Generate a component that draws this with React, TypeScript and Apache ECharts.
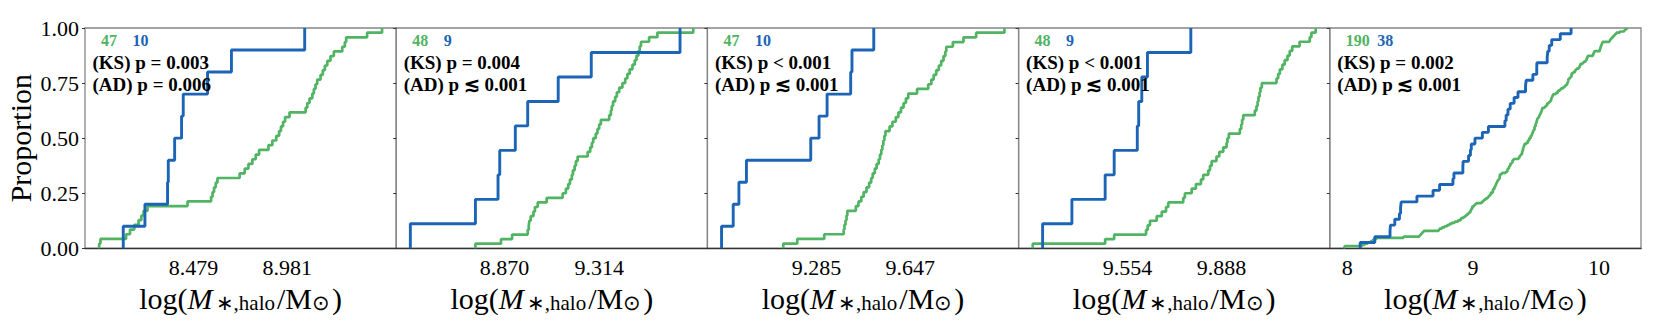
import React, { useEffect, useRef } from "react";
import * as echarts from "echarts";

const FONT = "Liberation Serif";
const GREEN = "#50b462";
const BLUE = "#1c64b5";

// Sample values (sorted), per panel
const p1Green = [7.974, 7.981, 8.118, 8.139, 8.162, 8.185, 8.2, 8.212, 8.233, 8.447, 8.573, 8.581, 8.589, 8.598, 8.607, 8.726, 8.753, 8.773, 8.794, 8.812, 8.83, 8.88, 8.901, 8.922, 8.937, 8.947, 8.958, 8.969, 8.993, 9.079, 9.088, 9.1, 9.115, 9.123, 9.132, 9.141, 9.159, 9.171, 9.182, 9.195, 9.212, 9.23, 9.275, 9.289, 9.296, 9.408, 9.488];
const p1Blue = [8.103, 8.219, 8.34, 8.344, 8.378, 8.415, 8.424, 8.554, 8.682, 9.074];

const p2Green = [8.734, 8.854, 8.906, 8.979, 8.984, 8.987, 8.993, 9.006, 9.013, 9.026, 9.068, 9.143, 9.158, 9.169, 9.177, 9.186, 9.191, 9.199, 9.205, 9.213, 9.26, 9.272, 9.28, 9.286, 9.298, 9.306, 9.314, 9.322, 9.361, 9.369, 9.373, 9.379, 9.389, 9.397, 9.408, 9.423, 9.436, 9.446, 9.457, 9.47, 9.481, 9.489, 9.498, 9.504, 9.51, 9.548, 9.587, 9.755];
const p2Blue = [8.429, 8.734, 8.84, 8.848, 8.921, 8.979, 9.122, 9.277, 9.693];

const p3Green = [9.157, 9.211, 9.315, 9.39, 9.393, 9.397, 9.401, 9.404, 9.437, 9.447, 9.458, 9.467, 9.478, 9.488, 9.496, 9.502, 9.51, 9.517, 9.525, 9.53, 9.535, 9.539, 9.543, 9.547, 9.551, 9.567, 9.578, 9.591, 9.601, 9.611, 9.621, 9.63, 9.639, 9.673, 9.716, 9.728, 9.737, 9.747, 9.757, 9.766, 9.775, 9.782, 9.786, 9.811, 9.852, 9.901, 10.01];
const p3Blue = [8.919, 8.964, 8.986, 9.015, 9.263, 9.295, 9.326, 9.417, 9.422, 9.506];

const p4Green = [9.218, 9.475, 9.507, 9.62, 9.626, 9.634, 9.658, 9.676, 9.691, 9.699, 9.752, 9.758, 9.782, 9.797, 9.815, 9.823, 9.841, 9.847, 9.853, 9.87, 9.88, 9.894, 9.906, 9.909, 9.914, 9.953, 9.958, 9.961, 9.965, 10.006, 10.012, 10.016, 10.019, 10.023, 10.026, 10.031, 10.083, 10.089, 10.095, 10.104, 10.112, 10.122, 10.13, 10.139, 10.165, 10.201, 10.207, 10.222];
const p4Blue = [9.253, 9.357, 9.475, 9.507, 9.589, 9.594, 9.605, 9.625, 9.779];

// Last panel: all samples combined
const allGreen = [...p1Green, ...p2Green, ...p3Green, ...p4Green];
const allBlue = [...p1Blue, ...p2Blue, ...p3Blue, ...p4Blue];

const panelGreen = [p1Green, p2Green, p3Green, p4Green, allGreen];
const panelBlue = [p1Blue, p2Blue, p3Blue, p4Blue, allBlue];

const xTickLabels = [
  ["8.479", "8.981"],
  ["8.870", "9.314"],
  ["9.285", "9.647"],
  ["9.554", "9.888"],
  ["8", "9", "10"],
];
const yTickLabels = ["0.00", "0.25", "0.50", "0.75", "1.00"];
const ksTexts = ["(KS) p = 0.003", "(KS) p = 0.004", "(KS) p < 0.001", "(KS) p < 0.001", "(KS) p = 0.002"];
const adTexts = ["(AD) p = 0.006", "(AD) p \u2272 0.001", "(AD) p \u2272 0.001", "(AD) p \u2272 0.001", "(AD) p \u2272 0.001"];
const yAxisTitle = "Proportion";
const xAxisTitle = "{n|log(}{i|M}{s|\u2217,halo}{n|/M}{s|\u2299}{n|)}";

// layout
const W = 1661;
const H = 332;
const G_LEFT = 85;
const G_RIGHT = 1641;
const G_TOP = 28;
const G_BOTTOM = 248.3;
const NP = 5;
const PW = (G_RIGHT - G_LEFT) / NP;

function ecdf(values: number[]): number[][] {
  const xs = [...values].sort((a, b) => a - b);
  const n = xs.length;
  const pts: number[][] = [];
  xs.forEach((x, k) => {
    pts.push([x, k / n]);
    pts.push([x, (k + 1) / n]);
  });
  return pts;
}

function label(text: string, x: number, y: number, fill: string, size: number) {
  return {
    type: "text",
    x,
    y,
    z: 10,
    style: {
      text,
      fill,
      fontFamily: FONT,
      fontWeight: "bold",
      fontSize: size,
      align: "left",
      verticalAlign: "middle",
    },
  };
}

export default function App() {
  const ref = useRef<HTMLDivElement>(null);
  useEffect(() => {
    if (!ref.current) return;
    const chart = echarts.init(ref.current, undefined, { renderer: "svg" });
    const grids: any[] = [];
    const xAxes: any[] = [];
    const yAxes: any[] = [];
    const series: any[] = [];
    const graphics: any[] = [];
    for (let i = 0; i < NP; i++) {
      const left = G_LEFT + i * PW;
      grids.push({
        left,
        top: G_TOP,
        width: PW,
        height: G_BOTTOM - G_TOP,
        show: true,
        borderColor: "#858585",
        borderWidth: 1.3,
        backgroundColor: "transparent",
        containLabel: false,
        outerBoundsMode: "none",
      });
      const all = [...panelGreen[i], ...panelBlue[i]];
      const mn = Math.min(...all);
      const mx = Math.max(...all);
      const pad = (mx - mn) * 0.05;
      const tickVals = xTickLabels[i].map(Number);
      const labels = xTickLabels[i];
      xAxes.push({
        type: "value",
        gridIndex: i,
        min: mn - pad,
        max: mx + pad,
        axisLine: { show: true, lineStyle: { color: "#333333", width: 1.3 } },
        axisTick: { show: false },
        splitLine: { show: false },
        axisLabel: {
          customValues: tickVals,
          formatter: (v: number) => {
            const idx = tickVals.findIndex((t) => Math.abs(t - v) < 1e-9);
            return idx >= 0 ? labels[idx] : "";
          },
          fontFamily: FONT,
          fontSize: 22,
          color: "#000",
          margin: 8,
        },
        name: xAxisTitle,
        nameLocation: "middle",
        nameGap: 29,
        nameTextStyle: {
          fontFamily: FONT,
          fontSize: 30,
          color: "#000",
          rich: {
            n: { fontFamily: FONT, fontSize: 30, color: "#000" },
            i: { fontFamily: FONT, fontSize: 30, fontStyle: "italic", color: "#000", padding: [0, 3, 0, 0] },
            s: { fontFamily: FONT, fontSize: 21, color: "#000", verticalAlign: "bottom", lineHeight: 17, padding: [0, 2, 0, 0] },
          },
        },
      });
      yAxes.push({
        type: "value",
        gridIndex: i,
        min: 0,
        max: 1,
        interval: 0.25,
        axisLine: { show: false },
        axisTick: { show: true, inside: false, length: 3, lineStyle: { color: "#333333", width: 1 } },
        splitLine: { show: false },
        axisLabel: {
          show: i === 0,
          formatter: (v: number) => yTickLabels[Math.round(v / 0.25)],
          fontFamily: FONT,
          fontSize: 22,
          color: "#000",
          margin: 6,
        },
        name: i === 0 ? yAxisTitle : "",
        nameLocation: "middle",
        nameGap: 50,
        nameTextStyle: { fontFamily: FONT, fontSize: 30, color: "#000" },
      });
      series.push({
        type: "line",
        xAxisIndex: i,
        yAxisIndex: i,
        data: ecdf(panelGreen[i]),
        showSymbol: false,
        symbol: "none",
        lineStyle: { color: GREEN, width: 2.7 },
        silent: true,
        z: 2,
      });
      series.push({
        type: "line",
        xAxisIndex: i,
        yAxisIndex: i,
        data: ecdf(panelBlue[i]),
        showSymbol: false,
        symbol: "none",
        lineStyle: { color: BLUE, width: 2.9 },
        silent: true,
        z: 3,
      });
      graphics.push(
        label(String(panelGreen[i].length), left + 16, 40.5, GREEN, 16),
        label(String(panelBlue[i].length), left + 47.5, 40.5, BLUE, 16),
        label(ksTexts[i], left + 7.5, 62.5, "#000", 19),
        label(adTexts[i], left + 7.5, 84.3, "#000", 19)
      );
    }
    chart.setOption({
      animation: false,
      backgroundColor: "#ffffff",
      grid: grids,
      xAxis: xAxes,
      yAxis: yAxes,
      series,
      graphic: graphics,
    });
    return () => chart.dispose();
  }, []);
  return <div ref={ref} style={{ position: "absolute", left: 0, top: 0, width: W, height: H }} />;
}
